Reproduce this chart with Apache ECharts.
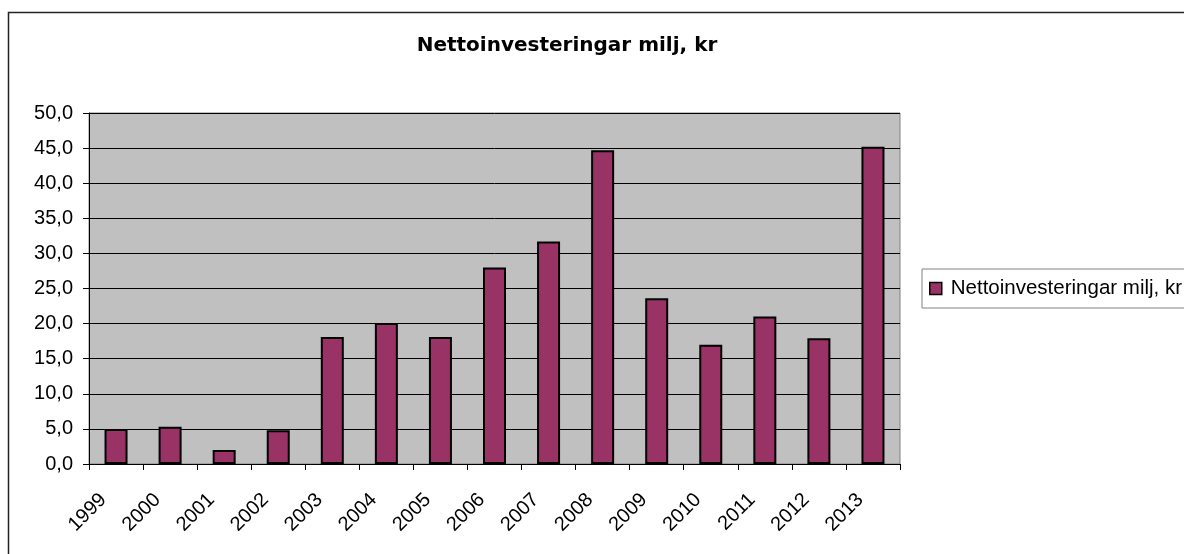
<!DOCTYPE html>
<html lang="sv">

<head>
    <meta charset="UTF-8">
    <script src="https://cdn.jsdelivr.net/npm/echarts@6/dist/echarts.min.js"></script>
    <title>Nettoinvesteringar</title>
    <style>
        * {
            margin: 0;
            padding: 0;
        }

        body {
            background: #fff;
        }

        #main {
            width: 1184px;
            height: 554px;
        }
    </style>
</head>

<body>
    <div id="main"></div>
    <script>
        // årtal och värden (milj kr)
        var years = ['1999', '2000', '2001', '2002', '2003', '2004', '2005', '2006',
            '2007', '2008', '2009', '2010', '2011', '2012', '2013'];
        var values = [5.0, 5.3, 2.0, 4.8, 18.1, 20.1, 18.1, 28.0, 31.7, 44.7, 23.6, 17.0, 21.0, 17.9, 45.2];
        var seriesName = 'Nettoinvesteringar milj, kr';

        var chartDom = document.getElementById('main');
        var myChart = echarts.init(chartDom);
        var option;

        option = {
            animation: false,
            title: {
                text: 'Nettoinvesteringar milj, kr',
                left: 562,
                textAlign: 'center',
                top: 31,
                textStyle: {
                    fontFamily: 'DejaVu Sans',
                    fontWeight: 'bold',
                    fontSize: 20,
                    color: '#000'
                }
            },
            // ram runt hela diagrammet
            graphic: [
                {
                    type: 'rect',
                    shape: { x: 8.5, y: 12.5, width: 1300, height: 700 },
                    style: { fill: 'none', stroke: '#222', lineWidth: 1.5 },
                    silent: true
                }
            ],
            legend: {
                data: [seriesName],
                left: 922,
                top: 269,
                padding: [9, 30, 9, 7],
                borderColor: '#808080',
                borderWidth: 1,
                itemWidth: 12,
                itemHeight: 12,
                icon: 'rect',
                itemStyle: {
                    color: '#993366',
                    borderColor: '#000',
                    borderWidth: 1.5
                },
                textStyle: {
                    fontFamily: 'Liberation Sans',
                    fontSize: 20.5,
                    color: '#000',
                    padding: [0, 0, 0, 4]
                }
            },
            grid: {
                left: 89,
                top: 113,
                right: 284,
                bottom: 90,
                show: true,
                backgroundColor: '#c0c0c0',
                borderColor: '#808080',
                borderWidth: 1
            },
            xAxis: {
                type: 'category',
                data: years,
                axisLine: { lineStyle: { color: '#000', width: 1 } },
                axisTick: { show: true, length: 6, lineStyle: { color: '#000' } },
                axisLabel: {
                    interval: 0,
                    rotate: 45,
                    margin: 20,
                    padding: [0, 18, 0, 0],
                    fontFamily: 'Liberation Sans',
                    fontSize: 20,
                    color: '#000'
                }
            },
            yAxis: {
                type: 'value',
                min: 0,
                max: 50,
                interval: 5,
                axisLine: { show: true, lineStyle: { color: '#000', width: 1 } },
                axisTick: { show: true, length: 6, lineStyle: { color: '#000' } },
                axisLabel: {
                    margin: 16,
                    fontFamily: 'Liberation Sans',
                    fontSize: 20,
                    color: '#000',
                    formatter: function (v) {
                        return v.toFixed(1).replace('.', ',');
                    }
                },
                splitLine: { show: true, lineStyle: { color: '#000', width: 1 } }
            },
            series: [
                {
                    name: seriesName,
                    type: 'bar',
                    data: values,
                    barWidth: 23,
                    itemStyle: {
                        color: '#993366',
                        borderColor: '#000',
                        borderWidth: 2
                    }
                }
            ]
        };

        option && myChart.setOption(option);
    </script>
</body>

</html>
